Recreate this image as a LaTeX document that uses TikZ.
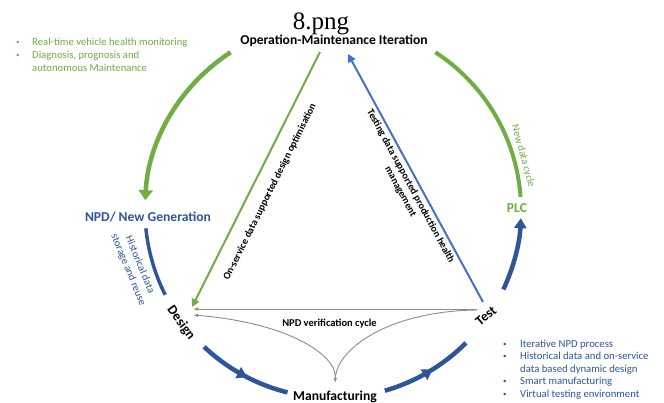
\documentclass[tikz,border=0pt]{standalone}
\usepackage{fontspec}
\setmainfont{Carlito}
\newfontfamily\titlefont{Liberation Serif}
\usetikzlibrary{arrows.meta,decorations.markings}
\definecolor{cgreen}{HTML}{70AD47}
\definecolor{cblue}{HTML}{2F5597}
\definecolor{lblue}{HTML}{4472C4}
\definecolor{cgray}{HTML}{8C8C8C}
\tikzset{
  lbl/.style={font=\bfseries\fontsize{13.6}{15}\selectfont, inner sep=0pt},
  smallbold/.style={font=\bfseries\fontsize{10.1}{11.5}\selectfont, inner sep=0pt, align=center},
  note/.style={font=\fontsize{10.5}{12.6}\selectfont, inner sep=0pt, align=center},
  bigarc/.style={line width=4.5pt},
  bigtip/.style={-{Triangle[width=14pt,length=10pt]}},
  midtip/.style={postaction={decorate}, decoration={markings, mark=at position 0.55 with {\arrow{Triangle[width=12pt,length=10pt]}}}},
  diag/.style={line width=2pt, -{Triangle[width=8pt,length=8pt]}},
  grayline/.style={cgray, line width=0.9pt, -{Latex[length=5pt,width=3.5pt]}},
  bulletlist/.style={font=\fontsize{10.7}{13}\selectfont, inner sep=0pt, anchor=north west}
}
\begin{document}
\begin{tikzpicture}[x=1pt,y=1pt]
\useasboundingbox (0,0) rectangle (664,403);
\fill[white] (0,0) rectangle (664,403);

% title
\node[font=\titlefont\fontsize{25}{28}\selectfont, inner sep=0pt, anchor=base] (title) at (321,373) {8.png};

% main labels
\node[lbl, anchor=base] (om) at (334,358) {Operation-Maintenance Iteration};
\node[lbl, anchor=base, text=cblue] (npd) at (148,181) {NPD/ New Generation};
\node[lbl, text=cgreen, anchor=base] (plc) at (517,190) {PLC};
\node[lbl, rotate=-54] (design) at (181,80) {Design};
\node[lbl, rotate=40] (test) at (486,87) {Test};
\node[lbl, anchor=base] (manu) at (335,2) {Manufacturing};

% circle arcs
\coordinate (C) at (333,193);
\coordinate (g1s) at ([shift={(123:188)}]C);
\coordinate (g2s) at ([shift={(57:188)}]C);
\coordinate (b1s) at ([shift={(185.6:188)}]C);
\coordinate (b2s) at ([shift={(226.7:188)}]C);
\coordinate (b3s) at ([shift={(286:188)}]C);
\coordinate (b4s) at ([shift={(335:188)}]C);

\draw[cgreen, bigarc, bigtip] (g1s) arc[start angle=123, end angle=177, radius=188];
\draw[cgreen, line width=4pt] (g2s) arc[start angle=57, end angle=4, radius=188];
\draw[cblue, line width=3.5pt] (b1s) arc[start angle=185.6, end angle=206.8, radius=188];
\draw[cblue, bigarc, midtip] (b2s) arc[start angle=226.7, end angle=256, radius=188];
\draw[cblue, bigarc, midtip] (b3s) arc[start angle=286, end angle=315, radius=188];
\draw[cblue, bigarc, -{Triangle[width=12pt,length=10pt]}] (b4s) arc[start angle=335, end angle=357.5, radius=188];

% diagonal connectors
\coordinate (gdA) at (320,351);
\coordinate (gdB) at (192,96);
\coordinate (bdA) at (483,101);
\coordinate (bdB) at (348,349);
\draw[cgreen, diag] (gdA) -- (gdB);
\draw[lblue, diag] (bdA) -- (bdB);

% gray verification cycle
\coordinate (tg1) at (477,94);
\coordinate (dg1) at (193,94);
\coordinate (tg2) at (477,93);
\coordinate (mg) at (335,20);
\coordinate (mg2) at (335,28);
\coordinate (dg2) at (193,88);
\draw[grayline] (tg1) -- (dg1);
\draw[grayline] (tg2) .. controls (390,92) and (337,55) .. (mg);
\draw[grayline] (mg2) .. controls (334,48) and (290,80) .. (dg2);

% connector labels
\node[smallbold, rotate=63.5] (ondata) at (270,211) {On-service data supported design optimisation};
\node[smallbold, rotate=-61.5] (testdata) at (405.5,214) {Testing data supported production health\\management};
\node[smallbold, font=\bfseries\fontsize{10.5}{12}\selectfont] (verif) at (329.5,79) {NPD verification cycle};
\node[note, text=cblue, rotate=-67.5] (hist) at (134,135.5) {Historical data\\storage and reuse};
\node[note, text=cgreen, rotate=-74.7] (newdata) at (523,247) {New data cycle};

% bullet lists
\node[bulletlist, text=cgreen] (listA) at (16,367) {%
\begin{tabular}{@{}l@{}l@{}}
\makebox[16pt][l]{\raisebox{1pt}{\fontsize{7}{7}\selectfont\textbullet}} & Real-time vehicle health monitoring\\
\makebox[16pt][l]{\raisebox{1pt}{\fontsize{7}{7}\selectfont\textbullet}} & Diagnosis, prognosis and\\
 & autonomous Maintenance
\end{tabular}};
\node[bulletlist, text=cblue, font=\fontsize{10.7}{12.6}\selectfont] (listB) at (503,65) {%
\begin{tabular}{@{}l@{}l@{}}
\makebox[17pt][l]{\raisebox{1pt}{\fontsize{7}{7}\selectfont\textbullet}} & Iterative NPD process\\
\makebox[17pt][l]{\raisebox{1pt}{\fontsize{7}{7}\selectfont\textbullet}} & Historical data and on-service\\
 & data based dynamic design\\
\makebox[17pt][l]{\raisebox{1pt}{\fontsize{7}{7}\selectfont\textbullet}} & Smart manufacturing\\
\makebox[17pt][l]{\raisebox{1pt}{\fontsize{7}{7}\selectfont\textbullet}} & Virtual testing environment
\end{tabular}};
\end{tikzpicture}
\end{document}
